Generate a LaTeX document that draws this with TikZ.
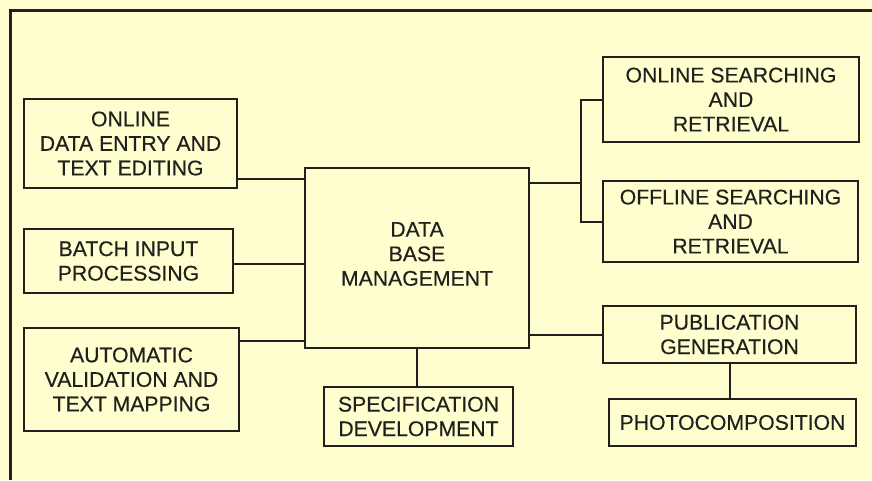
\documentclass[tikz,border=0pt]{standalone}
\usepackage{fontspec}
\setmainfont[FakeBold=0.4]{Liberation Sans}
\definecolor{paper}{RGB}{254,254,206}
\definecolor{ink}{RGB}{34,32,30}
\begin{document}
\begin{tikzpicture}[x=1pt,y=-1pt,
  box/.style={draw=ink, line width=2pt, text=ink, align=center,
    inner sep=0pt, font=\fontsize{21.2}{24.5}\selectfont},
  link/.style={draw=ink, line width=2pt}]
% paper and page size
\fill[paper] (0,0) rectangle (872,480);
\useasboundingbox (0,0) rectangle (872,480);
% outer frame (open at right and bottom)
\draw[ink, line width=3pt] (10,480) -- (10,10) -- (872,10);

% input side
\node[box, minimum width=213pt, minimum height=89pt] (ode) at (130.5,143.5)
  {ONLINE\\DATA ENTRY AND\\TEXT EDITING};
\node[box, minimum width=209pt, minimum height=64pt] (batch) at (128.5,261)
  {BATCH INPUT\\PROCESSING};
\node[box, minimum width=215pt, minimum height=103pt] (auto) at (131.5,379.5)
  {AUTOMATIC\\VALIDATION AND\\TEXT MAPPING};

% central box; its text sits a little above the middle
\node[box, minimum width=224pt, minimum height=180pt] (db) at (417,258) {};
\node[text=ink, align=center, inner sep=0pt,
  font=\fontsize{21.2}{24.5}\selectfont] (dbtext) at (417,254)
  {DATA\\BASE\\MANAGEMENT};
\node[box, minimum width=189pt, minimum height=59pt] (spec) at (418.5,416.5)
  {SPECIFICATION\\DEVELOPMENT};

% output side
\node[box, minimum width=256pt, minimum height=85pt] (onl) at (731,99.5)
  {ONLINE SEARCHING\\AND\\RETRIEVAL};
\node[box, minimum width=255pt, minimum height=81pt] (off) at (730.5,221.5)
  {OFFLINE SEARCHING\\AND\\RETRIEVAL};
\node[box, minimum width=253pt, minimum height=57pt] (pub) at (729.5,334.5)
  {PUBLICATION\\GENERATION};
\node[box, minimum width=247pt, minimum height=47pt] (photo) at (732.5,422.5)
  {PHOTOCOMPOSITION};

% connector anchor points
\path ([yshift=-35.5pt]ode.east) coordinate (c1);
\path ([yshift=-2.5pt]batch.east) coordinate (c2);
\path ([yshift=38.5pt]auto.east) coordinate (c3);
\path ([yshift=75pt]db.east) coordinate (c4);
\coordinate (jx) at (581,0);

% connectors into the central box
\draw[link] (c1) -- (c1 -| db.west);
\draw[link] (c2) -- (c2 -| db.west);
\draw[link] (c3) -- (c3 -| db.west);
\draw[link] (db.south) -- (db.south |- spec.north);

% connectors to the searching boxes
\draw[link] (c4) -- (c4 -| jx);
\draw[link] (onl.west) -- (onl.west -| jx) -- (off.west -| jx) -- (off.west);

% publication chain
\draw[link] (pub.west -| db.east) -- (pub.west);
\draw[link] (pub.south) -- (pub.south |- photo.north);
\end{tikzpicture}
\end{document}
